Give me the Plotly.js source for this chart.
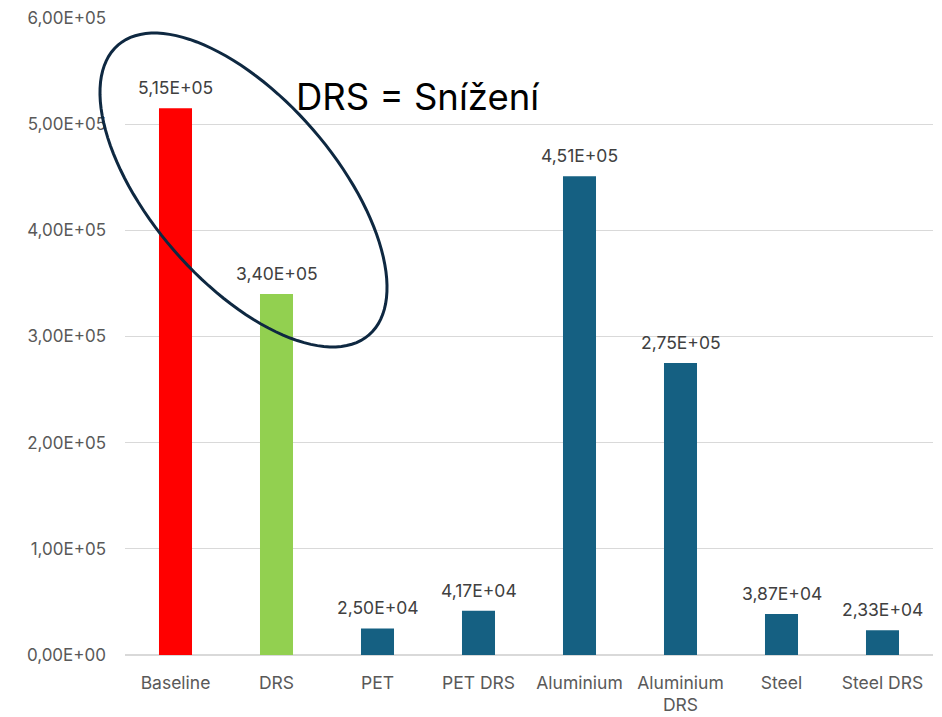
<!DOCTYPE html>
<html>
<head>
<meta charset="utf-8">
<script src="https://cdn.plot.ly/plotly-3.0.1.min.js"></script>
<style>html,body{margin:0;padding:0;background:#fff;}#chart{width:942px;height:717px;}</style>
</head>
<body>
<div id="chart"></div>
<script>
const categories = ["Baseline", "DRS", "PET", "PET DRS", "Aluminium", "Aluminium<br>DRS", "Steel", "Steel DRS"];
const values = [515000, 340000, 25000, 41700, 451000, 275000, 38700, 23300];
const barColors = ["#FF0000", "#92D050", "#156082", "#156082", "#156082", "#156082", "#156082", "#156082"];
const yTickVals = [0, 100000, 200000, 300000, 400000, 500000, 600000];
const yTickText = ["0,00E+00", "1,00E+05", "2,00E+05", "3,00E+05", "4,00E+05", "5,00E+05", "6,00E+05"];
const calloutText = "DRS = Snížení";

function fmt(v) {
  const parts = v.toExponential(2).split("e");
  const mant = parts[0].replace(".", ",");
  let exp = parseInt(parts[1], 10);
  const sign = exp < 0 ? "-" : "+";
  exp = Math.abs(exp);
  return mant + "E" + sign + (exp < 10 ? "0" + exp : "" + exp);
}

const W = 942, H = 717, L = 125, R = 9, T = 18, B = 62;
const pw = W - L - R, ph = H - T - B;
const FONT = "Inter, sans-serif";

// ellipse (decoration) in pixel space -> paper
const cx = 243.5, cy = 190, a = 191.7, b = 92.1, th = 49.1 * Math.PI / 180;
let path = "";
for (let i = 0; i <= 120; i++) {
  const t = 2 * Math.PI * i / 120;
  const px = cx + a * Math.cos(t) * Math.cos(th) - b * Math.sin(t) * Math.sin(th);
  const py = cy + a * Math.cos(t) * Math.sin(th) + b * Math.sin(t) * Math.cos(th);
  const xp = (px - L) / pw, yp = (H - B - py) / ph;
  path += (i === 0 ? "M" : "L") + xp.toFixed(5) + "," + yp.toFixed(5);
}
path += "Z";

const labelAnns = categories.map((c, i) => ({
  x: c, y: values[i], xref: "x", yref: "y",
  text: fmt(values[i]), showarrow: false, yanchor: "bottom", yshift: 8,
  font: {family: FONT, size: 17.5, color: "#404040"}
}));

const trace = {
  type: "bar", x: categories, y: values,
  marker: {color: barColors}, hoverinfo: "skip"
};

const layout = {
  width: W, height: H,
  margin: {l: L, r: R, t: T, b: B},
  paper_bgcolor: "#ffffff", plot_bgcolor: "#ffffff",
  bargap: 0.673,
  showlegend: false,
  font: {family: FONT, color: "#595959"},
  xaxis: {
    type: "category", showgrid: false, zeroline: false,
    showline: false, ticks: "", ticklabelstandoff: 15,
    tickfont: {family: FONT, size: 17.5, color: "#595959"}
  },
  yaxis: {
    range: [0, 600000], tickvals: yTickVals, ticktext: yTickText,
    showgrid: true, gridcolor: "#d9d9d9", gridwidth: 1,
    zeroline: true, zerolinecolor: "#d9d9d9", zerolinewidth: 1.5,
    showline: false, ticks: "", ticklabelstandoff: 18,
    tickfont: {family: FONT, size: 17, color: "#595959"}
  },
  shapes: [{
    type: "path", xref: "paper", yref: "paper", path: path,
    line: {color: "#0E2841", width: 3}, fillcolor: "rgba(0,0,0,0)"
  }],
  annotations: labelAnns.concat([{
    xref: "paper", yref: "paper",
    x: (294 - L) / pw, y: (H - B - 97) / ph,
    xanchor: "left", yanchor: "middle", showarrow: false,
    text: calloutText,
    font: {family: FONT, size: 36.5, color: "#000000"}
  }])
};

Plotly.newPlot("chart", [trace], layout, {displayModeBar: false, staticPlot: true});
</script>
</body>
</html>
